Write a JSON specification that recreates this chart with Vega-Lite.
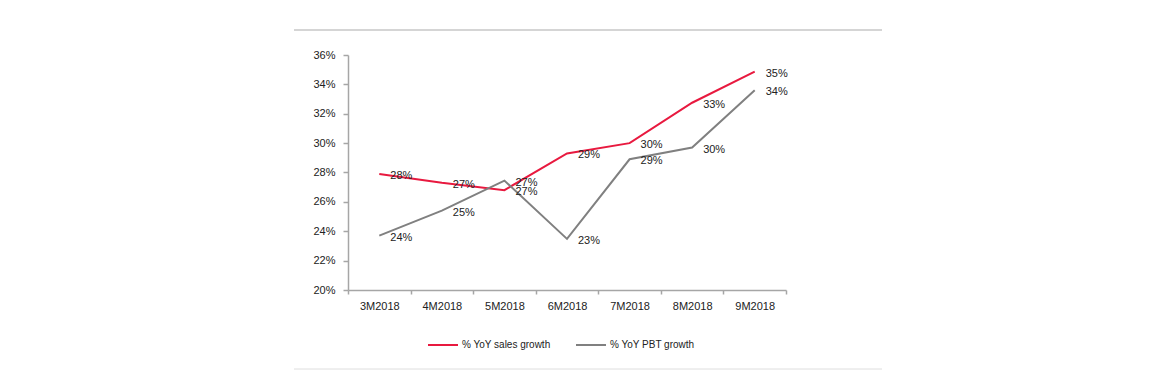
{
  "$schema": "https://vega.github.io/schema/vega-lite/v6.json",
  "width": 438,
  "height": 235,
  "autosize": {"type": "none"},
  "padding": {"left": 348, "top": 55, "right": 385, "bottom": 86},
  "background": "white",
  "config": {
    "view": {"stroke": null},
    "font": "Liberation Sans",
    "axis": {"labelFont": "Liberation Sans", "labelFontSize": 11, "labelColor": "#222222", "domainColor": "#a6a6a6", "tickColor": "#a6a6a6", "domainWidth": 1.5, "tickWidth": 1.5, "grid": false, "title": null},
    "legend": {"labelFont": "Liberation Sans", "labelFontSize": 10, "labelColor": "#222222"}
  },
  "data": {
    "values": [
      {"month": "3M2018", "series": "% YoY sales growth", "value": 0.279},
      {"month": "4M2018", "series": "% YoY sales growth", "value": 0.273},
      {"month": "5M2018", "series": "% YoY sales growth", "value": 0.268},
      {"month": "6M2018", "series": "% YoY sales growth", "value": 0.293},
      {"month": "7M2018", "series": "% YoY sales growth", "value": 0.300},
      {"month": "8M2018", "series": "% YoY sales growth", "value": 0.3275},
      {"month": "9M2018", "series": "% YoY sales growth", "value": 0.3487},
      {"month": "3M2018", "series": "% YoY PBT growth", "value": 0.237},
      {"month": "4M2018", "series": "% YoY PBT growth", "value": 0.254},
      {"month": "5M2018", "series": "% YoY PBT growth", "value": 0.2745},
      {"month": "6M2018", "series": "% YoY PBT growth", "value": 0.2348},
      {"month": "7M2018", "series": "% YoY PBT growth", "value": 0.289},
      {"month": "8M2018", "series": "% YoY PBT growth", "value": 0.297},
      {"month": "9M2018", "series": "% YoY PBT growth", "value": 0.336}
    ]
  },
  "encoding": {
    "x": {"field": "month", "type": "ordinal", "scale": {"paddingInner": 0, "paddingOuter": 0}, "axis": {"labelAngle": 0, "tickBand": "extent", "tickSize": 4, "labelPadding": 6}},
    "y": {"field": "value", "type": "quantitative", "scale": {"domain": [0.2, 0.36], "nice": false, "zero": false}, "axis": {"format": ".0%", "values": [0.2, 0.22, 0.24, 0.26, 0.28, 0.3, 0.32, 0.34, 0.36], "labelOverlap": false, "tickSize": 5, "labelPadding": 8}}
  },
  "layer": [
    {
      "mark": {"type": "rule", "color": "#d4d4d4", "strokeWidth": 1.5},
      "encoding": {"x": {"value": -54}, "x2": {"value": 534}, "y": {"value": -25}}
    },
    {
      "mark": {"type": "rule", "color": "#eeeeee", "strokeWidth": 1},
      "encoding": {"x": {"value": -54}, "x2": {"value": 534}, "y": {"value": 314}}
    },
    {
      "mark": {"type": "line", "strokeWidth": 2},
      "encoding": {
        "color": {"field": "series", "type": "nominal", "sort": ["% YoY sales growth", "% YoY PBT growth"], "scale": {"domain": ["% YoY sales growth", "% YoY PBT growth"], "range": ["#e8193f", "#808080"]}, "legend": {"title": null, "orient": "none", "legendX": 79, "legendY": 274, "direction": "horizontal", "symbolType": "stroke", "symbolSize": 900, "symbolStrokeWidth": 2, "columnPadding": 21, "labelOffset": 3}}
      }
    },
    {
      "mark": {"type": "text", "dx": 22, "dy": 2, "align": "center", "baseline": "middle", "fontSize": 11, "color": "#222222"},
      "encoding": {
        "text": {"field": "value", "type": "quantitative", "format": ".0%"}
      }
    }
  ]
}
